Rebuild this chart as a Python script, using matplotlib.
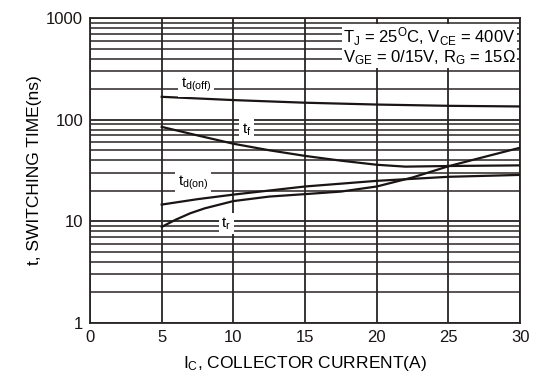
import matplotlib
matplotlib.use("Agg")

import matplotlib.pyplot as plt
import matplotlib.ticker as ticker

plt.rcParams["font.family"] = ["Liberation Sans", "DejaVu Sans"]
plt.rcParams["mathtext.fontset"] = "custom"
plt.rcParams["mathtext.rm"] = "Liberation Sans"
plt.rcParams["mathtext.it"] = "Liberation Sans"

# ── Data ─────────────────────────────────────────────────────────────────────
ic_off = [5, 10, 15, 20, 25, 30]
td_off = [168, 156, 147, 141, 137, 135]

ic_f = [5, 7.5, 10, 12.5, 15, 17.5, 20, 22, 25, 30]
t_f = [85, 70, 58, 50, 44, 39.5, 36, 34.5, 35, 35.5]

ic_on = [5, 7.5, 10, 15, 20, 25, 30]
td_on = [14.6, 16.5, 18.3, 22, 25, 27.4, 28.6]

ic_r = [5, 6, 7, 8, 10, 12.5, 15, 17.5, 20, 22.5, 25, 27.5, 30]
t_r = [8.8, 10.4, 12, 13.4, 15.8, 17.5, 18.5, 19.6, 22, 27, 34.8, 43, 53]

GRID = "#2a2424"

fig = plt.figure(figsize=(5.39, 3.78), dpi=100)
ax = fig.add_axes([0.167, 0.146, 0.798, 0.806])

for x, y in [(ic_off, td_off), (ic_f, t_f), (ic_on, td_on), (ic_r, t_r)]:
    ax.plot(x, y, color="#1a1414", linewidth=1.6, zorder=3)

ax.set_yscale("log")
ax.set_xlim(0, 30)
ax.set_ylim(1, 1000)
ax.set_xticks([0, 5, 10, 15, 20, 25, 30])
ax.yaxis.set_major_locator(ticker.FixedLocator([1, 10, 100, 1000]))
ax.yaxis.set_major_formatter(ticker.FormatStrFormatter("%d"))
ax.yaxis.set_minor_locator(ticker.LogLocator(base=10, subs=range(2, 10)))
ax.yaxis.set_minor_formatter(ticker.NullFormatter())
ax.tick_params(which="both", length=0, labelsize=12, colors="#1a1414", pad=5)

ax.grid(True, which="major", axis="both", color=GRID, linewidth=1.3)
ax.grid(True, which="minor", axis="y", color=GRID, linewidth=1.1)
for s in ax.spines.values():
    s.set_linewidth(1.3)
    s.set_color(GRID)

ax.set_xlabel(r"I$_\mathrm{C}$, COLLECTOR CURRENT(A)", fontsize=12.5, labelpad=7)
ax.set_ylabel("t, SWITCHING TIME(ns)", fontsize=12.5, labelpad=3)

box = dict(facecolor="white", edgecolor="none", pad=2.0)
ax.text(7.4, 220, r"t$_\mathrm{d(off)}$", fontsize=11, ha="center", va="center", bbox=box, zorder=4)
ax.text(10.9, 80, r"t$_\mathrm{f}$", fontsize=11, ha="center", va="center", bbox=box, zorder=4)
ax.text(7.2, 24, r"t$_\mathrm{d(on)}$", fontsize=11, ha="center", va="center", bbox=box, zorder=4)
ax.text(9.5, 9.5, r"t$_\mathrm{r}$", fontsize=11, ha="center", va="center", bbox=box, zorder=4)

ax.text(29.7, 840,
        "T$_\\mathrm{J}$ = 25$^\\mathrm{O}$C, V$_\\mathrm{CE}$ = 400V\n"
        "V$_\\mathrm{GE}$ = 0/15V, R$_\\mathrm{G}$ = 15Ω",
        fontsize=12, ha="right", va="top", linespacing=1.0,
        bbox=dict(facecolor="white", edgecolor="none", pad=1.0), zorder=4)

fig.savefig("out.png", dpi=100)
